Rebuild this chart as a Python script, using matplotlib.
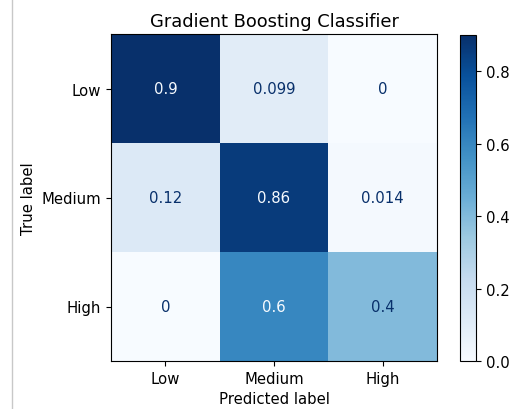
import matplotlib
matplotlib.use("Agg")
import matplotlib.pyplot as plt
import numpy as np
from matplotlib.lines import Line2D

# confusion matrix (normalized), rows = true label, cols = predicted label
labels = ["Low", "Medium", "High"]
row_low = [0.9, 0.099, 0.0]
row_medium = [0.12, 0.86, 0.014]
row_high = [0.0, 0.6, 0.4]
cbar_ticks = [0.0, 0.2, 0.4, 0.6, 0.8]

plt.rcParams["font.family"] = ["DejaVu Sans"]
plt.rcParams["font.size"] = 10.7

cm = np.array([row_low, row_medium, row_high])
cmap = plt.get_cmap("Blues")

fig = plt.figure(figsize=(5.17, 4.10), dpi=100)
ax = fig.add_axes([111 / 517, 1 - 362 / 410, 326 / 517, 327 / 410])
cax = fig.add_axes([460 / 517, 1 - 362 / 410, 16 / 517, 326 / 410])

im = ax.imshow(cm, cmap=cmap, vmin=0.0, vmax=cm.max(), aspect="auto")
cb = fig.colorbar(im, cax=cax, ticks=cbar_ticks)
cb.ax.tick_params(labelsize=10.7)

thresh = (cm.max() + cm.min()) / 2.0
for i in range(cm.shape[0]):
    for j in range(cm.shape[1]):
        color = cmap(0.0) if cm[i, j] >= thresh else cmap(1.0)
        ax.text(j, i, format(cm[i, j], ".2g"), ha="center", va="center",
                color=color, fontsize=10.7)

ax.set_xticks(range(len(labels)))
ax.set_xticklabels(labels)
ax.set_yticks(range(len(labels)))
ax.set_yticklabels(labels)
ax.set_xlabel("Predicted label")
ax.set_ylabel("True label")
ax.set_title("Gradient Boosting Classifier", fontsize=12.9)

# screenshot border on the left
fig.add_artist(Line2D([12 / 517, 12 / 517], [0, 1], color="#c8c8c8", lw=1.0))

fig.savefig("out.png", dpi=100)
